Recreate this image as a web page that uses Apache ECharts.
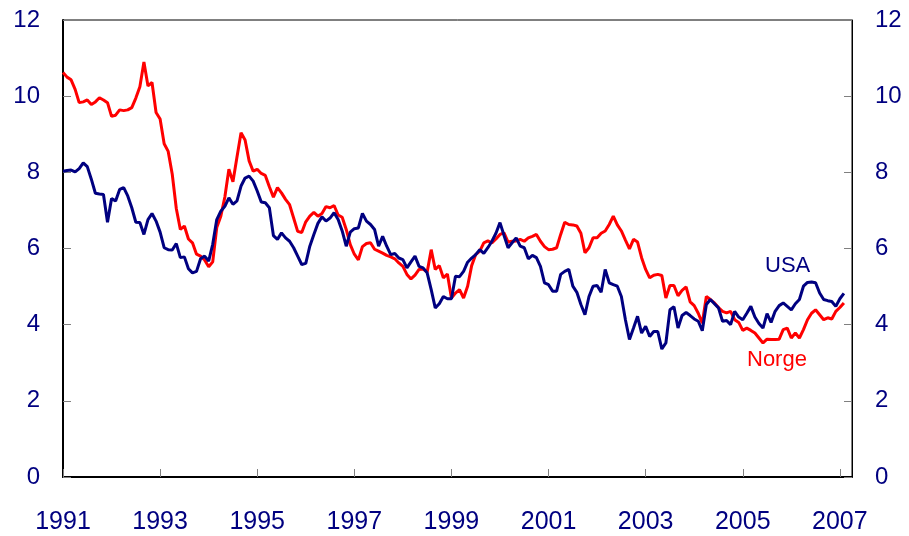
<!DOCTYPE html>
<html>
<head>
<meta charset="utf-8">
<script src="https://cdn.jsdelivr.net/npm/echarts@6/dist/echarts.min.js"></script>
<style>
  html, body { margin: 0; padding: 0; background: #fff; }
  #chart { width: 909px; height: 536px; }
</style>
</head>
<body>
<div id="chart"></div>
<script>
// monthly values, Jan 1991 - Feb 2007
var startYear = 1991;
var norge = [
  10.62, 10.50, 10.43, 10.18, 9.83, 9.85, 9.90, 9.78, 9.85, 9.96, 9.90, 9.83,
  9.47, 9.50, 9.64, 9.62, 9.64, 9.70, 9.95, 10.25, 10.90, 10.27, 10.36, 9.57,
  9.40, 8.75, 8.55, 7.95, 7.05, 6.50, 6.59, 6.25, 6.15, 5.85, 5.80, 5.70,
  5.52, 5.65, 6.55, 6.85, 7.35, 8.08, 7.75, 8.40, 9.04, 8.85, 8.30, 8.03,
  8.08, 7.97, 7.92, 7.62, 7.35, 7.60, 7.46, 7.29, 7.15, 6.80, 6.45, 6.42,
  6.70, 6.85, 6.95, 6.85, 6.92, 7.10, 7.07, 7.13, 6.88, 6.82, 6.50, 6.10,
  5.85, 5.70, 6.05, 6.13, 6.15, 5.98, 5.93, 5.88, 5.82, 5.78, 5.73, 5.62,
  5.53, 5.32, 5.20, 5.30, 5.45, 5.46, 5.38, 5.97, 5.45, 5.55, 5.23, 5.33,
  4.70, 4.83, 4.92, 4.70, 5.01, 5.55, 5.84, 5.93, 6.15, 6.20, 6.15, 6.25,
  6.37, 6.41, 6.17, 6.19, 6.20, 6.24, 6.19, 6.28, 6.32, 6.37, 6.19, 6.05,
  5.97, 5.98, 6.02, 6.37, 6.69, 6.63, 6.62, 6.59, 6.40, 5.89, 6.02, 6.28,
  6.28, 6.40, 6.46, 6.63, 6.85, 6.62, 6.46, 6.22, 5.99, 6.24, 6.17, 5.76,
  5.45, 5.23, 5.30, 5.32, 5.29, 4.70, 5.03, 5.03, 4.76, 4.90, 4.99, 4.60,
  4.50, 4.30, 4.04, 4.74, 4.66, 4.57, 4.45, 4.35, 4.31, 4.35, 4.13, 4.06,
  3.85, 3.91, 3.85, 3.78, 3.65, 3.52, 3.62, 3.61, 3.61, 3.62, 3.87, 3.91,
  3.65, 3.78, 3.65, 3.87, 4.13, 4.30, 4.39, 4.26, 4.13, 4.18, 4.15, 4.35,
  4.45, 4.57
];
var usa = [
  8.03, 8.05, 8.06, 8.01, 8.10, 8.25, 8.15, 7.82, 7.45, 7.43, 7.42, 6.69,
  7.31, 7.25, 7.55, 7.60, 7.38, 7.07, 6.69, 6.68, 6.37, 6.76, 6.92, 6.72,
  6.43, 6.02, 5.97, 5.96, 6.13, 5.76, 5.78, 5.47, 5.36, 5.40, 5.73, 5.80,
  5.67, 6.11, 6.76, 6.98, 7.11, 7.33, 7.16, 7.25, 7.64, 7.85, 7.90, 7.77,
  7.51, 7.22, 7.20, 7.07, 6.34, 6.24, 6.41, 6.28, 6.19, 6.02, 5.80, 5.58,
  5.61, 6.06, 6.37, 6.66, 6.83, 6.72, 6.80, 6.94, 6.76, 6.46, 6.06, 6.43,
  6.52, 6.54, 6.92, 6.72, 6.63, 6.50, 6.06, 6.32, 6.06, 5.84, 5.87, 5.75,
  5.71, 5.49, 5.65, 5.80, 5.53, 5.49, 5.36, 4.92, 4.44, 4.55, 4.74, 4.68,
  4.68, 5.27, 5.26, 5.40, 5.64, 5.75, 5.84, 5.97, 5.87, 6.02, 6.19, 6.40,
  6.68, 6.34, 6.02, 6.15, 6.28, 6.06, 6.02, 5.73, 5.82, 5.76, 5.53, 5.10,
  5.05, 4.88, 4.88, 5.32, 5.40, 5.45, 5.01, 4.85, 4.53, 4.26, 4.74, 5.01,
  5.03, 4.85, 5.45, 5.10, 5.05, 5.01, 4.74, 4.13, 3.61, 3.91, 4.22, 3.78,
  3.96, 3.69, 3.82, 3.82, 3.36, 3.52, 4.39, 4.47, 3.91, 4.24, 4.32, 4.24,
  4.15, 4.09, 3.84, 4.53, 4.66, 4.55, 4.44, 4.09, 4.11, 4.00, 4.35, 4.20,
  4.13, 4.30, 4.48, 4.20, 4.03, 3.91, 4.29, 4.06, 4.35, 4.50, 4.57, 4.48,
  4.39, 4.55, 4.66, 5.01, 5.11, 5.12, 5.10, 4.83, 4.66, 4.63, 4.61, 4.48,
  4.68, 4.82
];

function withDates(arr) {
  return arr.map(function (v, i) { return [startYear + i / 12, v]; });
}

var font = 'Liberation Sans, Arial, sans-serif';
var navy = '#000080';
var chart = echarts.init(document.getElementById('chart'));

var yAxisBase = {
  type: 'value', min: 0, max: 12, interval: 2,
  splitLine: { show: false },
  axisLine: { show: true, lineStyle: { color: '#000', width: 1 } },
  axisTick: { show: true, inside: true, length: 8, lineStyle: { color: '#808080' } },
  axisLabel: { color: navy, fontSize: 24, fontFamily: font, margin: 23, padding: [4, 0, 0, 0] }
};

chart.setOption({
  animation: false,
  backgroundColor: '#fff',
  grid: {
    left: 63, right: 57, top: 20, bottom: 59,
    show: true, borderColor: '#000', borderWidth: 1
  },
  xAxis: {
    type: 'value', min: 1991, max: 2007.25, interval: 2,
    splitLine: { show: false },
    axisLine: { lineStyle: { color: '#000', width: 2 } },
    axisTick: { inside: true, length: 8, lineStyle: { color: '#808080' } },
    axisLabel: {
      color: navy, fontSize: 25, fontFamily: font, margin: 33,
      showMaxLabel: false,
      formatter: function (v) { return v % 1 === 0 ? String(v) : ''; }
    }
  },
  yAxis: [
    Object.assign({}, yAxisBase, { position: 'left',
      axisLine: { show: true, lineStyle: { color: '#000', width: 2 } } }),
    Object.assign({}, yAxisBase, { position: 'right' })
  ],
  series: [
    {
      name: 'Norge', type: 'line', data: withDates(norge),
      showSymbol: false, lineStyle: { color: '#ff0000', width: 3 },
      itemStyle: { color: '#ff0000' }, z: 2
    },
    {
      name: 'USA', type: 'line', data: withDates(usa),
      showSymbol: false, lineStyle: { color: navy, width: 3 },
      itemStyle: { color: navy }, z: 3
    }
  ],
  graphic: [
    { type: 'text', left: 765, top: 255,
      style: { text: 'USA', fill: navy, fontSize: 22, fontFamily: font } },
    { type: 'text', left: 747, top: 349,
      style: { text: 'Norge', fill: '#ff0000', fontSize: 22, fontFamily: font } }
  ]
});
</script>
</body>
</html>
